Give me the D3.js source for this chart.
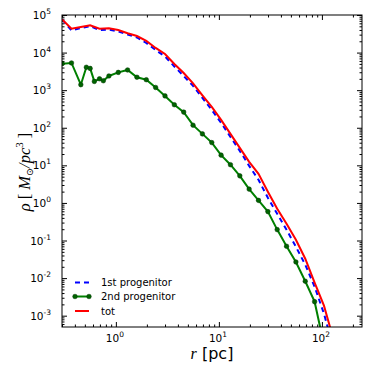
<html>
<head>
<meta charset="utf-8">
<style>
  body { margin: 0; background: #fff; }
  svg text { font-family: "DejaVu Sans", sans-serif; }
  .math { font-family: "Liberation Serif", "DejaVu Serif", serif; font-style: italic; }
</style>
</head>
<body>
<svg id="chart" width="374" height="374"></svg>
<script src="https://d3js.org/d3.v7.min.js"></script>
<script>
// radii (pc) of the profile bins
var radius = [0.301, 0.371, 0.457, 0.563, 0.694, 0.856, 1.055, 1.300, 1.602, 1.974,
              2.433, 2.999, 3.696, 4.555, 5.614, 6.918, 8.527, 10.51, 12.95, 15.96,
              19.67, 24.24, 29.88, 36.81, 45.38, 55.92, 68.93, 84.93, 104.7, 129.0];

// density of the first progenitor
var rho1st = [75900, 38700, 45100, 50100, 39900, 41200, 36400, 30300, 25200, 18000,
              11700, 7890, 4280, 2390, 1300, 622, 299, 135, 57.1, 24.3,
              9.70, 4.12, 1.37, 0.514, 0.193, 0.0682, 0.0227, 0.00590, 0.00113, 0.000141];

// total density
var rhoTot = [75900, 43000, 48000, 53200, 43300, 44300, 39900, 32800, 27600, 20400,
              13300, 9190, 4990, 2870, 1510, 725, 359, 162, 68.7, 29.2,
              12.4, 5.94, 1.98, 0.698, 0.279, 0.105, 0.0327, 0.00754, 0.00185, 0.000245];

// second progenitor has a few extra points in the centre
var radius2nd = [0.301, 0.371, 0.457, 0.517, 0.563, 0.618, 0.694, 0.756, 0.856, 1.055,
                 1.300, 1.602, 1.974, 2.433, 2.999, 3.696, 4.555, 5.614, 6.918, 8.527,
                 10.51, 12.95, 15.96, 19.67, 24.24, 29.88, 36.81, 45.38, 55.92, 68.93,
                 84.93, 104.7];
var rho2nd = [5080, 5300, 1400, 4070, 3790, 1710, 2010, 1780, 2390, 2970,
              3450, 2210, 1900, 1180, 703, 410, 261, 117, 68.7, 40.4,
              18.7, 10.4, 5.26, 2.33, 1.17, 0.588, 0.195, 0.0703, 0.0269, 0.00826,
              0.00236, 0.000169];

var xMajor = [1, 10, 100];
var xExp = ["0", "1", "2"];
var yMajor = [1e5, 1e4, 1e3, 1e2, 1e1, 1, 1e-1, 1e-2, 1e-3];
var yExp = ["5", "4", "3", "2", "1", "0", "-1", "-2", "-3"];

var legendNames = ["1st progenitor", "2nd progenitor", "tot"];

var pL = 62, pR = 362, pT = 15, pB = 327;

var x = d3.scaleLog().domain([0.3, 245]).range([pL, pR]);
var y = d3.scaleLog().domain([5e-4, 1e5]).range([pB, pT]);

var svg = d3.select("#chart");

svg.append("clipPath").attr("id", "clip")
  .append("rect").attr("x", pL).attr("y", pT)
  .attr("width", pR - pL).attr("height", pB - pT);

// minor tick positions for log axes
function minors(lo, hi) {
  var out = [];
  for (var e = lo; e <= hi; e++) {
    for (var k = 2; k <= 9; k++) out.push(k * Math.pow(10, e));
  }
  return out;
}
var xMinor = minors(-1, 2).filter(v => v > 0.3 && v < 245);
var yMinor = minors(-4, 4).filter(v => v > 5e-4 && v < 1e5);

function addAxis(axis, tr) {
  var g = svg.append("g").attr("transform", tr).call(axis);
  g.selectAll("text").remove();
  g.select(".domain").remove();
  g.selectAll("line").attr("stroke", "#000").attr("stroke-width", 1);
}
addAxis(d3.axisBottom(x).tickValues(xMajor).tickSize(-5).tickFormat(""), "translate(0," + pB + ")");
addAxis(d3.axisBottom(x).tickValues(xMinor).tickSize(-2.5).tickFormat(""), "translate(0," + pB + ")");
addAxis(d3.axisTop(x).tickValues(xMajor).tickSize(-5).tickFormat(""), "translate(0," + pT + ")");
addAxis(d3.axisTop(x).tickValues(xMinor).tickSize(-2.5).tickFormat(""), "translate(0," + pT + ")");
addAxis(d3.axisLeft(y).tickValues(yMajor).tickSize(-5).tickFormat(""), "translate(" + pL + ",0)");
addAxis(d3.axisLeft(y).tickValues(yMinor).tickSize(-2.5).tickFormat(""), "translate(" + pL + ",0)");
addAxis(d3.axisRight(y).tickValues(yMajor).tickSize(-5).tickFormat(""), "translate(" + pR + ",0)");
addAxis(d3.axisRight(y).tickValues(yMinor).tickSize(-2.5).tickFormat(""), "translate(" + pR + ",0)");

// tick labels as 10^n
xMajor.forEach(function(v, i) {
  var t = svg.append("text").attr("x", x(v) - 10).attr("y", pB + 15)
    .attr("font-size", 10.5).attr("fill", "#000");
  t.append("tspan").text("10");
  t.append("tspan").attr("dy", -5).attr("font-size", 7.5).text(xExp[i]);
});
yMajor.forEach(function(v, i) {
  var t = svg.append("text").attr("x", 51).attr("y", y(v) + 4)
    .attr("text-anchor", "end").attr("font-size", 10.5).attr("fill", "#000");
  t.append("tspan").text("10");
  t.append("tspan").attr("dy", -5).attr("font-size", 7.5).text(yExp[i]);
});

var line = d3.line().x(d => x(d[0])).y(d => y(d[1]));
var plot = svg.append("g").attr("clip-path", "url(#clip)");

var d1 = d3.zip(radius, rho1st);
var d2 = d3.zip(radius2nd, rho2nd);
var dt = d3.zip(radius, rhoTot);

plot.append("path").datum(d1).attr("d", line)
  .attr("fill", "none").attr("stroke", "#0000ff").attr("stroke-width", 2)
  .attr("stroke-dasharray", "5,4");
plot.append("path").datum(d2).attr("d", line)
  .attr("fill", "none").attr("stroke", "#008000").attr("stroke-width", 2);
plot.selectAll("circle.m").data(d2).enter().append("circle")
  .attr("class", "m")
  .attr("cx", d => x(d[0])).attr("cy", d => y(d[1])).attr("r", 2.3)
  .attr("fill", "#006400").attr("stroke", "#003300").attr("stroke-width", 0.5);
plot.append("path").datum(dt).attr("d", line)
  .attr("fill", "none").attr("stroke", "#ff0000").attr("stroke-width", 2);

// frame
svg.append("rect").attr("x", pL).attr("y", pT)
  .attr("width", pR - pL).attr("height", pB - pT)
  .attr("fill", "none").attr("stroke", "#000").attr("stroke-width", 1);

// legend
var legY = [282.5, 296.5, 311];
var leg = svg.append("g");
leg.append("line").attr("x1", 75).attr("x2", 89).attr("y1", legY[0]).attr("y2", legY[0])
  .attr("stroke", "#0000ff").attr("stroke-width", 2).attr("stroke-dasharray", "5,4");
leg.append("line").attr("x1", 75).attr("x2", 89).attr("y1", legY[1]).attr("y2", legY[1])
  .attr("stroke", "#008000").attr("stroke-width", 2);
[75, 89].forEach(function(cx) {
  leg.append("circle").attr("cx", cx).attr("cy", legY[1]).attr("r", 2.3)
    .attr("fill", "#006400").attr("stroke", "#003300").attr("stroke-width", 0.5);
});
leg.append("line").attr("x1", 75).attr("x2", 89).attr("y1", legY[2]).attr("y2", legY[2])
  .attr("stroke", "#ff0000").attr("stroke-width", 2);
legendNames.forEach(function(n, i) {
  leg.append("text").attr("x", 101).attr("y", legY[i] + 3.5)
    .attr("font-size", 10).attr("fill", "#000").text(n);
});

// axis titles
var xl = svg.append("text").attr("x", 212).attr("y", 359)
  .attr("text-anchor", "middle").attr("font-size", 16).attr("fill", "#000");
xl.append("tspan").attr("class", "math").text("r");
xl.append("tspan").text(" [pc]");

var yl = svg.append("text").attr("transform", "translate(30,172) rotate(-90)")
  .attr("text-anchor", "middle").attr("font-size", 16.5).attr("fill", "#000");
yl.append("tspan").attr("class", "math").text("ρ");
yl.append("tspan").attr("font-family", "Liberation Serif, serif").text(" [ ");
yl.append("tspan").attr("class", "math").text("M");
yl.append("tspan").attr("font-family", "DejaVu Sans, sans-serif").attr("font-size", 9.5).attr("dy", 3).text("⊙");
yl.append("tspan").attr("class", "math").attr("dy", -3).text("/pc");
yl.append("tspan").attr("font-family", "Liberation Serif, serif").attr("font-size", 11).attr("dy", -7).text("3");
yl.append("tspan").attr("font-family", "Liberation Serif, serif").attr("dy", 7).text(" ]");
</script>
</body>
</html>
